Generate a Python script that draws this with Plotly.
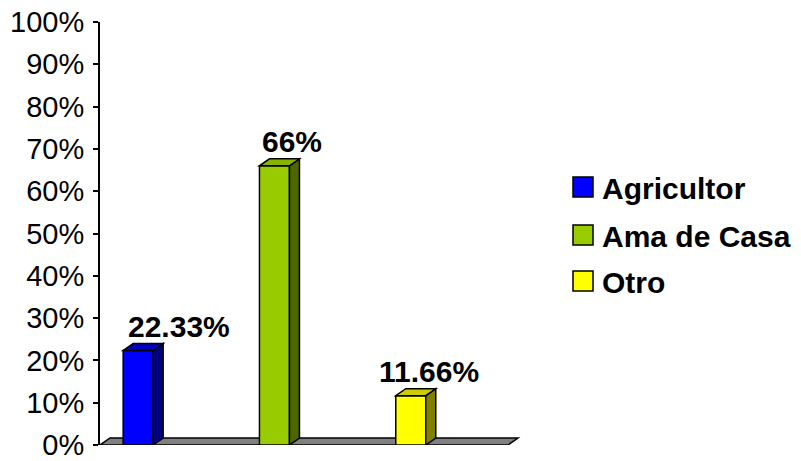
import plotly.graph_objects as go

categories = ["Agricultor", "Ama de Casa", "Otro"]
values = [22.33, 66, 11.66]
tick_values = list(range(0, 101, 10))
tick_labels = [f"{v}%" for v in tick_values]

front_colors = ["#0000FF", "#99CC00", "#FFFF00"]
top_colors = ["#0000C0", "#88B400", "#CCCC00"]
side_colors = ["#000080", "#4D6600", "#808000"]
label_xshift = [41, 18, 18]

W, H = 801, 461
ML, MR, MT, MB = 100, 276, 22, 16
plot_w = W - ML - MR
plot_h = H - MT - MB
x0_range, x1_range = -0.28, -0.28 + plot_w / 136.3
px_per_x = plot_w / (x1_range - x0_range)
px_per_y = plot_h / 100.0
DX = 10 / px_per_x
DY = 7 / px_per_y
BW = 30 / px_per_x

FONT = "Arial, Liberation Sans, sans-serif"

fig = go.Figure()
shapes = []
annotations = []

# floor
fx0 = x0_range
fx1 = x0_range + 408 / px_per_x
shapes.append(dict(type="path", xref="x", yref="y", layer="below",
                   path=f"M{fx0},0 L{fx1},0 L{fx1+DX},{DY} L{fx0+DX},{DY} Z",
                   fillcolor="#808080", line=dict(color="black", width=1.5)))

for i, (cat, v) in enumerate(zip(categories, values)):
    fig.add_trace(go.Bar(x=[i], y=[v], width=BW, name=cat,
                         marker=dict(color=front_colors[i], line=dict(color="black", width=1.5)),
                         showlegend=False, hoverinfo="skip"))
    xl, xr = i - BW / 2, i + BW / 2
    # side
    shapes.append(dict(type="path", xref="x", yref="y", layer="above",
                       path=f"M{xr},0 L{xr+DX},{DY} L{xr+DX},{v+DY} L{xr},{v} Z",
                       fillcolor=side_colors[i], line=dict(color="black", width=1.5)))
    # top
    shapes.append(dict(type="path", xref="x", yref="y", layer="above",
                       path=f"M{xl},{v} L{xr},{v} L{xr+DX},{v+DY} L{xl+DX},{v+DY} Z",
                       fillcolor=top_colors[i], line=dict(color="black", width=1.5)))
    annotations.append(dict(x=i, y=v, xref="x", yref="y", text=f"<b>{v:g}%</b>",
                            showarrow=False, xanchor="center", yanchor="middle",
                            xshift=label_xshift[i], yshift=24,
                            font=dict(family=FONT, size=30, color="black")))

# manual legend
def px2paper_x(px):
    return (px - ML) / plot_w

def py2paper_y(py):
    return (H - MB - py) / plot_h

legend_y = [187, 235, 281]
for i, cat in enumerate(categories):
    cy = legend_y[i]
    shapes.append(dict(type="rect", xref="paper", yref="paper",
                       x0=px2paper_x(573), x1=px2paper_x(593),
                       y0=py2paper_y(cy + 10), y1=py2paper_y(cy - 10),
                       fillcolor=front_colors[i], line=dict(color="black", width=1.5)))
    annotations.append(dict(x=px2paper_x(600), y=py2paper_y(cy + 1), xref="paper", yref="paper",
                            text=f"<b>{cat}</b>", showarrow=False, xanchor="left", yanchor="middle",
                            font=dict(family=FONT, size=30, color="black")))

fig.update_layout(
    width=W, height=H,
    margin=dict(l=ML, r=MR, t=MT, b=MB, pad=0, autoexpand=False),
    paper_bgcolor="white", plot_bgcolor="white",
    showlegend=False,
    shapes=shapes, annotations=annotations,
    xaxis=dict(range=[x0_range, x1_range], visible=False, fixedrange=True, automargin=False),
    yaxis=dict(range=[0, 100], tickvals=tick_values, ticktext=tick_labels,
               automargin=False, ticklabeloverflow="allow",
               showgrid=False, zeroline=False, showline=True, linecolor="black", linewidth=2,
               ticks="outside", ticklen=5, tickwidth=1.5, tickcolor="black",
               ticklabelstandoff=3,
               tickfont=dict(family=FONT, size=29, color="black"), fixedrange=True),
)

fig.write_html("out.html")
